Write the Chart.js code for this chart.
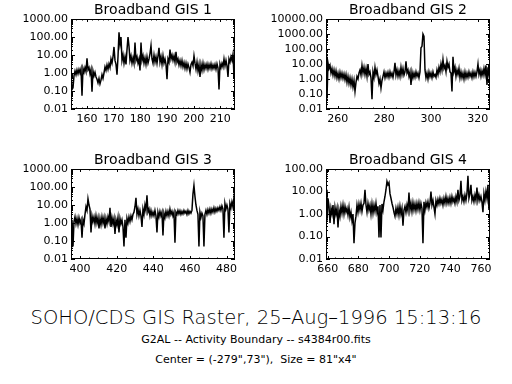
<!DOCTYPE html>
<html lang="en">
<head>
    <meta charset="UTF-8">
    <title>SOHO/CDS GIS Raster</title>
    <script src="https://cdn.jsdelivr.net/npm/chart.js"></script>
    <style>
        body { margin: 0; background: #fff; }
        #page { position: relative; width: 512px; height: 384px; overflow: hidden; background: #fff; }
        canvas { position: absolute; }
        .caption { position: absolute; left: 0; width: 512px; text-align: center; color: #000;
                   font-family: "DejaVu Sans", sans-serif; white-space: pre; }
    </style>
</head>
<body>
<div id="page">
  <canvas id="gis1" width="256" height="150" style="left:0;top:0"></canvas>
  <canvas id="gis2" width="256" height="150" style="left:256px;top:0"></canvas>
  <canvas id="gis3" width="256" height="150" style="left:0;top:150px"></canvas>
  <canvas id="gis4" width="256" height="150" style="left:256px;top:150px"></canvas>
  <div class="caption" id="cap1" style="top:307px;font-size:19.5px;line-height:22px;font-weight:200"></div>
  <div class="caption" id="cap2" style="top:333px;font-size:11px;line-height:14px"></div>
  <div class="caption" id="cap3" style="top:353px;font-size:11px;line-height:14px"></div>
</div>
<script>
// ---- data (wavelength in A, intensity), one sample per screen pixel ----
const titles = ['Broadband GIS 1', 'Broadband GIS 2', 'Broadband GIS 3', 'Broadband GIS 4'];

const gis1XRange = [154, 215.5];
const gis1XTicks = [160, 170, 180, 190, 200, 210];
const gis1YTicks = [0.01, 0.1, 1, 10, 100, 1000];
const gis1Start = 154, gis1Step = 0.375;
const gis1Values = [
  0.8, 0.12, 0.15, 0.7, 1.3, 0.8, 1.5, 0.9, 1.6, 1.0, 1.7, 0.055,
  1.8, 1.1, 2.0, 1.2, 6.5, 1.5, 2.0, 0.9, 1.6, 0.09,
  1.3, 0.7, 1.1, 0.6, 0.45, 0.28, 0.5, 0.25, 0.4, 0.8, 0.5, 1.0,
  2.2, 1.4, 2.8, 1.6, 3.2, 2.0, 6, 3.5, 8, 28, 5, 3, 0.8, 8,
  180, 40, 100, 5, 10, 3.5, 8, 3, 20, 100, 30,
  5, 9, 3.5, 7, 3.5, 50, 5, 8, 3.5, 6, 1.4, 50,
  5, 9, 3.5, 7, 3, 8, 3.5, 6, 12, 33,
  6, 3.5, 10, 4, 8, 3.5, 9, 25,
  4, 8, 3, 9, 3.5, 6, 3, 0.45, 6, 4, 20,
  6, 10, 5, 9, 4, 15, 4, 6, 2.8, 5, 2.5, 5, 2.2,
  3.8, 1.8, 3.5, 1.7, 3.2, 2.0, 1.1, 3, 4, 2.5, 9,
  3.5, 1.6, 4, 1.3, 3, 0.6, 3, 1.4, 3.5, 1.5,
  3, 1.8, 3.2, 1.6, 3, 1.8, 3.3, 1.7, 2.8, 1.8, 3, 1.6, 3.2, 1.9, 0.12,
  3.2, 2, 3.5, 2.2, 6, 2.5, 5, 2.5, 0.6,
  6, 4, 8, 5, 11, 0.6, 14
];

const gis2XRange = [255, 325.3];
const gis2XTicks = [260, 280, 300, 320];
const gis2YTicks = [0.01, 0.1, 1, 10, 100, 1000, 10000];
const gis2Start = 255, gis2Step = 0.4286;
const gis2Values = [
  30, 0.05, 12, 5, 8, 2.5, 5, 1.8, 4, 1.5, 3.5,
  1.2, 2.5, 1.0, 2.8, 1.2, 2.5, 1.1, 2.2, 0.9, 2.0,
  0.6, 1.5, 0.5, 1.2, 0.4, 1.0, 0.3, 0.8, 0.15, 0.6,
  1.5, 1.0, 2.5, 4, 1.8, 8, 2.5, 6, 2, 5,
  1.5, 10, 2, 3, 1.2, 0.045, 3, 1.3, 6, 2, 4, 1.5,
  0.5, 1.0, 0.25, 0.8, 1.5,
  3, 1.2, 2.5, 1.4, 2.8, 1.3, 3, 1.5, 2.5, 1.3, 3, 12,
  1.8, 4, 1.5, 3.5, 1.5, 6, 2, 5, 1.8, 3, 15,
  2.5, 4, 1.5, 3, 0.4, 3, 1.2, 2.5, 1.3, 3, 1.5, 2.5, 1.2,
  3, 120, 150, 1000, 700, 4,
  1.2, 2.5, 1.0, 3, 1.4, 2.5, 1.2, 3, 1.5, 2, 1.3,
  4, 2, 6, 3, 10, 4, 20, 5, 8, 3, 15, 6, 10, 3,
  2.5, 0.15, 30, 3, 6, 1.5, 4, 2, 5, 1.2, 3,
  1.2, 2.5, 1.0, 3, 1.2, 2.5, 1.3, 3, 1.5, 2.5, 1.2, 3, 1.4, 2.8, 1.5, 3,
  10, 2, 4, 1.5, 3.5, 1.8, 5, 2, 8, 0.4, 6, 2, 10
];

const gis3XRange = [395.1, 484.6];
const gis3XTicks = [400, 420, 440, 460, 480];
const gis3YTicks = [0.01, 0.1, 1, 10, 100, 1000];
const gis3Start = 395.1, gis3Step = 0.5455;
const gis3Values = [
  0.05, 1.5, 0.05, 1.2, 2.2, 0.9, 1.8, 0.8, 2, 1.0, 1.5, 0.15,
  1.5, 0.9, 3, 8, 5, 22, 10, 6, 0.3,
  2.5, 1.2, 2.2, 0.9, 2.5, 1.0, 2, 0.5, 1.8, 0.8, 2.2, 1.0, 2.0, 0.5, 1.8, 0.9, 2.2,
  1.2, 7, 0.6, 2, 0.9, 1.8, 0.25, 1.5, 0.8, 2, 0.3, 1.8,
  0.9, 1.5, 0.6, 0.05, 1.5, 0.15, 1.8,
  1.0, 2.2, 1.2, 2.5, 1.5, 3, 4, 8, 25,
  3, 6, 2.5, 5, 2.5, 0.6, 6, 3, 10, 5, 35,
  4, 6, 2.5, 5, 2.5, 4, 2.5, 5, 2.5, 0.3,
  4, 2.2, 4.5, 2.5, 4, 0.2,
  3.5, 2, 4.5, 2.5, 4.5, 2.5, 6, 3, 4.5, 2.5, 4, 0.08,
  4, 3, 5, 3.2, 4.8, 3, 4.5, 3.2, 5, 3.5, 4.5, 3, 5, 3.2, 4.5, 3.5, 5,
  40, 120, 30, 10, 5, 3, 0.05, 4, 2, 3.5, 2.5, 0.05,
  3, 5, 3, 5.5, 3.5, 6, 3.5, 6, 4, 7, 4, 6.5, 4.5, 7, 5, 8, 5, 9, 6, 0.15,
  12, 6, 10, 6, 0.3, 12, 7, 15, 8, 25, 10
];

const gis4XRange = [658.9, 765.9];
const gis4XTicks = [660, 680, 700, 720, 740, 760];
const gis4YTicks = [0.01, 0.1, 1, 10, 100];
const gis4Start = 658.9, gis4Step = 0.6522;
const gis4Values = [
  12, 0.5, 5, 2.2, 0.4, 1.8, 1.0, 2.5, 0.35, 2, 1.0, 1.8, 0.25,
  1.5, 0.8, 2.2, 1.1, 2.5, 1.0, 2.2, 1.2, 1.8, 0.9, 2.0,
  0.7, 1.2, 0.5, 1.0, 0.05, 0.4,
  0.8, 2.5, 1.2, 2.8, 1.5, 3, 1.3, 2.5, 3, 12,
  2.5, 1.2, 3, 1.5, 2.5, 1.0, 2.8, 1.1, 2.5, 1.3, 3, 1.2, 2.2,
  0.09, 2.5, 0.09, 2.8, 1.5, 3.5, 6, 12, 28, 20, 25, 8, 5, 3, 2,
  1.2, 0.8, 1.8, 1.0, 2, 0.9, 2.2, 1.0, 1.8, 0.3,
  1.5, 2.2, 1.2, 2.5, 1.4, 9,
  1.5, 3, 1.3, 3.2, 1.5, 2.8, 1.4, 3, 1.6, 3.2, 1.5, 3, 1.8, 0.05,
  3.5, 1.5, 3.2, 2, 3.5, 1.8, 3, 10, 2.5, 4, 2, 1.0,
  4, 2.5, 4.5, 2.8, 5, 3, 4.5, 2.5, 5, 3, 6, 3, 5, 3, 5.5,
  3, 6, 3.5, 5, 3, 6, 3.5, 12, 4, 6, 30,
  4, 6, 3.5, 7, 4, 8, 50, 5, 8, 20,
  4, 6, 3.5, 7, 4, 15, 4, 7, 4, 6, 3.5, 1.2,
  8, 4, 10, 5, 20, 1.5, 8
];

const caption1 = 'SOHO/CDS GIS Raster, 25\u2013Aug\u20131996 15:13:16';
const caption2 = 'G2AL -- Activity Boundary -- s4384r00.fits';
const caption3 = 'Center = (-279",73"),  Size = 81"x4"';

// ---- drawing ----
Chart.defaults.font.family = '"DejaVu Sans", sans-serif';
Chart.defaults.color = '#000';

// box frame with inward ticks on all four sides, IDL style
const frameTicks = {
    id: 'frameTicks',
    afterDatasetsDraw(chart, args, opts) {
        const { ctx, chartArea: a, scales: { x, y } } = chart;
        ctx.save();
        ctx.strokeStyle = '#000';
        ctx.lineWidth = 1;
        ctx.strokeRect(a.left + 0.5, a.top + 0.5, a.right - a.left - 1, a.bottom - a.top - 1);
        ctx.beginPath();
        const first = Math.ceil(x.min / opts.xMinor) * opts.xMinor;
        for (let v = first; v <= x.max + 1e-9; v += opts.xMinor) {
            const px = Math.round(x.getPixelForValue(v)) + 0.5;
            const r = v / opts.xMajor;
            const len = Math.abs(r - Math.round(r)) < 1e-6 ? 3 : 1.5;
            ctx.moveTo(px, a.bottom); ctx.lineTo(px, a.bottom - len);
            ctx.moveTo(px, a.top); ctx.lineTo(px, a.top + len);
        }
        for (let e = Math.round(Math.log10(y.min)); e < Math.round(Math.log10(y.max)) + 1; e++) {
            for (let k = 1; k <= 9; k++) {
                const v = k * Math.pow(10, e);
                if (v < y.min * 0.999 || v > y.max * 1.001) continue;
                const py = Math.round(y.getPixelForValue(v)) + 0.5;
                const len = k === 1 ? 4 : 2;
                ctx.moveTo(a.left, py); ctx.lineTo(a.left + len, py);
                ctx.moveTo(a.right, py); ctx.lineTo(a.right - len, py);
            }
        }
        ctx.stroke();
        ctx.restore();
    }
};

function makePanel(id, title, start, step, values, xRange, xTicks, yTicks, xMinor, xMajor, left, right) {
    const points = values.map((v, i) => ({ x: start + i * step, y: v }));
    return new Chart(document.getElementById(id), {
        type: 'line',
        data: { datasets: [{ data: points, borderColor: '#000', borderWidth: 1.5, pointRadius: 0, tension: 0 }] },
        options: {
            responsive: false,
            animation: false,
            layout: { padding: { left: 0, right: right, top: 0, bottom: 0 } },
            plugins: {
                legend: { display: false },
                tooltip: { enabled: false },
                title: {
                    display: true, text: title, fullSize: false, color: '#000',
                    font: { size: 14, weight: 'normal', lineHeight: 1 },
                    padding: { top: 3, bottom: 2 }
                },
                frameTicks: { xMinor: xMinor, xMajor: xMajor }
            },
            scales: {
                x: {
                    type: 'linear', min: xRange[0], max: xRange[1],
                    grid: { display: false, drawTicks: false },
                    border: { display: false },
                    afterBuildTicks: s => { s.ticks = xTicks.map(v => ({ value: v })); },
                    afterFit: s => { s.height = 41; },
                    ticks: { autoSkip: false, maxRotation: 0, padding: 4, font: { size: 11 },
                             callback: v => String(v) }
                },
                y: {
                    type: 'logarithmic', min: yTicks[0], max: yTicks[yTicks.length - 1],
                    grid: { display: false, drawTicks: false },
                    border: { display: false },
                    afterBuildTicks: s => { s.ticks = yTicks.map(v => ({ value: v })); },
                    afterFit: s => { s.width = left; },
                    ticks: { autoSkip: false, padding: 3, font: { size: 11 },
                             callback: v => Number(v).toFixed(2) }
                }
            }
        },
        plugins: [frameTicks]
    });
}

makePanel('gis1', titles[0], gis1Start, gis1Step, gis1Values, gis1XRange, gis1XTicks, gis1YTicks, 2, 10, 71, 21);
makePanel('gis2', titles[1], gis2Start, gis2Step, gis2Values, gis2XRange, gis2XTicks, gis2YTicks, 5, 20, 70, 22);
makePanel('gis3', titles[2], gis3Start, gis3Step, gis3Values, gis3XRange, gis3XTicks, gis3YTicks, 5, 20, 71, 21);
makePanel('gis4', titles[3], gis4Start, gis4Step, gis4Values, gis4XRange, gis4XTicks, gis4YTicks, 5, 20, 70, 22);

document.getElementById('cap1').textContent = caption1;
document.getElementById('cap2').textContent = caption2;
document.getElementById('cap3').textContent = caption3;
</script>
</body>
</html>
